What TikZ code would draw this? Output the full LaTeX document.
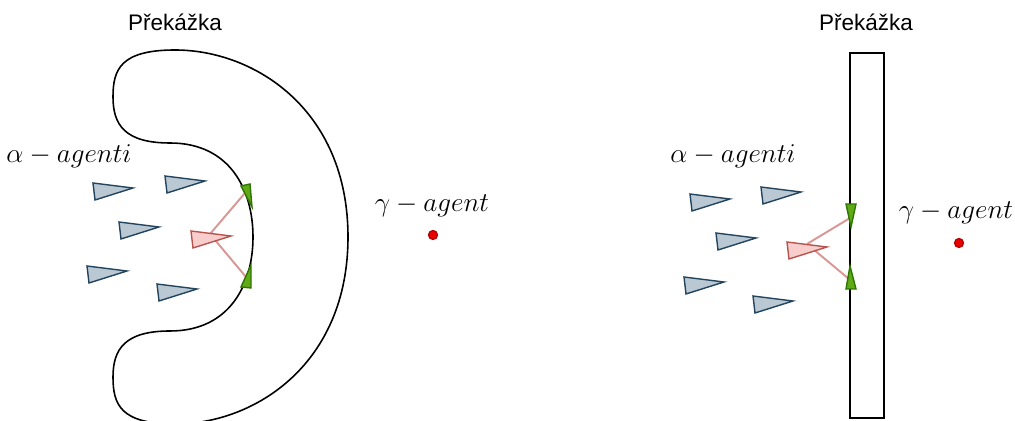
\RequirePackage{fix-cm}
\documentclass[tikz,border=0pt]{standalone}
\usepackage{fontspec}
\setsansfont{Liberation Sans}
\usetikzlibrary{positioning}
\definecolor{AgentFill}{RGB}{186,200,211}
\definecolor{AgentLine}{RGB}{35,68,93}
\definecolor{LeadFill}{RGB}{248,206,204}
\definecolor{LeadLine}{RGB}{184,84,80}
\definecolor{WallFill}{RGB}{96,169,23}
\definecolor{WallLine}{RGB}{45,118,0}
\definecolor{SenseRed}{RGB}{217,150,148}
\definecolor{DotRed}{RGB}{230,0,0}
\definecolor{DotLine}{RGB}{179,0,0}
% alpha agent: thin triangle, top-left corner at (#1,#2)
\newcommand{\agent}[3]{%
  \filldraw[line width=0.8pt,line join=miter,#3] (#1,#2)--++(40,5)--++(-38,12)--cycle;}
\tikzset{
  label/.style={font=\sffamily\fontsize{12.8}{15}\selectfont},
  mathlabel/.style={font=\fontsize{15.5}{18}\selectfont},
  sense/.style={SenseRed,line width=1.1pt},
  wallagent/.style={fill=WallFill,draw=WallLine,line width=0.8pt},
}

\begin{document}
\begin{tikzpicture}[x=0.02cm,y=-0.02cm]
  \useasboundingbox (0,0) rectangle (1015,421);
  % left obstacle
  \draw[line width=0.9pt] (175,50) .. controls (255,50) and (348,110) .. (348,237)
    .. controls (348,364) and (255,424) .. (175,424)
    .. controls (120,424) and (113,404) .. (113,377)
    .. controls (113,349) and (125,331) .. (170,331)
    .. controls (230,331) and (253,284) .. (253,237)
    .. controls (253,190) and (230,143) .. (170,143)
    .. controls (125,143) and (113,125) .. (113,97)
    .. controls (113,70) and (120,50) .. (175,50) -- cycle;
  \node[label] (obstL) at (175,22) {Překážka};
  \node[mathlabel] (alphaL) at (69,156) {$\alpha - agenti$};
  \node[mathlabel] (gammaL) at (432,206) {$\gamma - agent$};
  \coordinate (leadL) at (210,234);
  \coordinate (wallLa) at (245,193);
  \coordinate (wallLb) at (246,277);
  \draw[sense] (leadL) -- (wallLa);
  \draw[sense] (leadL) -- (wallLb);
  \agent{93}{183}{fill=AgentFill,draw=AgentLine}
  \agent{165}{176}{fill=AgentFill,draw=AgentLine}
  \agent{119}{222}{fill=AgentFill,draw=AgentLine}
  \agent{87}{266}{fill=AgentFill,draw=AgentLine}
  \agent{157}{284}{fill=AgentFill,draw=AgentLine}
  \agent{191}{231}{fill=LeadFill,draw=LeadLine}
  \filldraw[wallagent] (241,186)--(250,184)--(252,207)--cycle;
  \filldraw[wallagent] (241,287)--(251,288)--(251,265)--cycle;
  \filldraw[fill=DotRed,draw=DotLine,line width=0.7pt] (433,235) circle (4.5);
  % right obstacle
  \draw[line width=0.9pt] (850,53) rectangle (884,418);
  \node[label] (obstR) at (866,22) {Překážka};
  \node[mathlabel] (alphaR) at (733,156) {$\alpha - agenti$};
  \node[mathlabel] (gammaR) at (956,213) {$\gamma - agent$};
  \coordinate (leadR) at (807,244);
  \coordinate (wallRa) at (850,218);
  \coordinate (wallRb) at (849,279);
  \draw[sense] (leadR) -- (wallRa);
  \draw[sense] (leadR) -- (wallRb);
  \agent{690}{194}{fill=AgentFill,draw=AgentLine}
  \agent{761}{187}{fill=AgentFill,draw=AgentLine}
  \agent{716}{233}{fill=AgentFill,draw=AgentLine}
  \agent{684}{277}{fill=AgentFill,draw=AgentLine}
  \agent{753}{296}{fill=AgentFill,draw=AgentLine}
  \agent{787}{242}{fill=LeadFill,draw=LeadLine}
  \filldraw[wallagent] (846,204)--(856,204)--(851,227)--cycle;
  \filldraw[wallagent] (846,289)--(856,289)--(850,266)--cycle;
  \filldraw[fill=DotRed,draw=DotLine,line width=0.7pt] (959,243) circle (4.5);
\end{tikzpicture}
\end{document}
